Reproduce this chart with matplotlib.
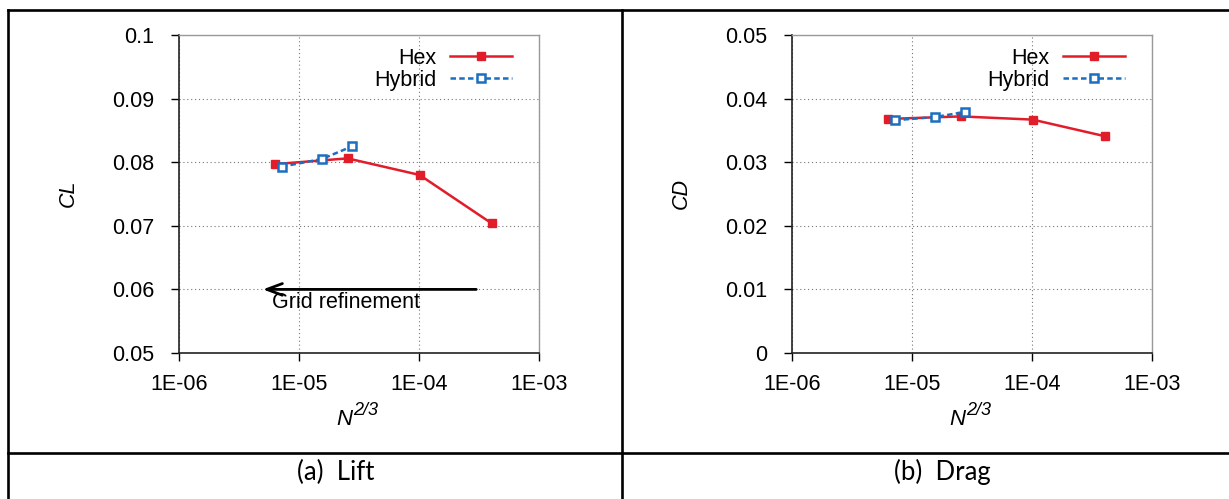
import numpy as np
import matplotlib
matplotlib.use("Agg")
import matplotlib.pyplot as plt
from matplotlib.lines import Line2D
from matplotlib.ticker import FixedLocator, FuncFormatter, NullLocator

RED, BLUE = '#e11d2a', '#1a6fc0'
FS = 15.5
plt.rcParams.update({'font.family': 'Liberation Sans', 'font.size': FS})

# grid size measure N^(2/3) for each mesh family
hex_x = [6.3e-6, 2.54e-5, 1.01e-4, 4.02e-4]
hybrid_x = [7.2e-6, 1.55e-5, 2.78e-5]

cl_hex = [0.0797, 0.0806, 0.0780, 0.0704]
cl_hybrid = [0.0793, 0.0805, 0.0825]
cd_hex = [0.0368, 0.0372, 0.0367, 0.0341]
cd_hybrid = [0.0366, 0.0371, 0.0379]

x_decades = [1e-6, 1e-5, 1e-4, 1e-3]
cl_ticks = [0.05, 0.06, 0.07, 0.08, 0.09, 0.1]
cd_ticks = [0.0, 0.01, 0.02, 0.03, 0.04, 0.05]

W, H = 1229, 499
fig = plt.figure(figsize=(W / 100, H / 100), dpi=100)


def px(x0, y0, w, h):
    return [x0 / W, 1 - (y0 + h) / H, w / W, h / H]


def panel(rect, y_hex, y_hyb, ticks, ylab):
    ax = fig.add_axes(rect)
    ax.plot(hex_x, y_hex, '-s', color=RED, lw=1.8, ms=5.5, label='Hex', zorder=3)
    ax.plot(hybrid_x, y_hyb, '--s', color=BLUE, lw=1.8, ms=6, mfc='white',
            mec=BLUE, mew=1.8, dashes=(2.2, 1.3), label='Hybrid', zorder=4)
    ax.set_xscale('log')
    ax.set_xlim(1e-6, 1e-3)
    ax.set_ylim(ticks[0], ticks[-1])
    ax.xaxis.set_major_locator(FixedLocator(x_decades))
    ax.xaxis.set_minor_locator(NullLocator())
    ax.xaxis.set_major_formatter(FuncFormatter(lambda v, p: '1E-%02d' % round(-np.log10(v))))
    ax.yaxis.set_major_locator(FixedLocator(ticks))
    ax.yaxis.set_major_formatter(FuncFormatter(lambda v, p: '%g' % round(v, 4)))
    ax.tick_params(direction='out', length=6, width=1, pad=9, labelsize=FS)
    ax.tick_params(axis='y', pad=12)
    ax.grid(True, color='#777777', lw=0.8, ls=(0, (1, 2.5)))
    for s in ('left', 'bottom'):
        ax.spines[s].set_color('#222222')
        ax.spines[s].set_linewidth(1.2)
    for s in ('top', 'right'):
        ax.spines[s].set_color('#999999')
        ax.spines[s].set_linewidth(1.0)
    ax.set_ylabel(ylab, fontsize=FS, style='italic')
    ax.yaxis.set_label_coords(-0.278, 0.503)
    # x label N^(2/3), superscript drawn as its own text so it stays large
    ax.text(0.481, -0.226, 'N', style='italic', fontsize=16, ha='right',
            va='baseline', transform=ax.transAxes)
    ax.text(0.483, -0.194, '2/3', style='italic', fontsize=13, ha='left',
            va='baseline', transform=ax.transAxes)
    ax.legend(loc='upper right', bbox_to_anchor=(0.925, 0.96), markerfirst=False,
              frameon=False, handlelength=2.9, handletextpad=0.6, labelspacing=0.05,
              borderpad=0, borderaxespad=0, fontsize=FS)
    return ax


ax1 = panel(px(179, 35, 360, 318), cl_hex, cl_hybrid, cl_ticks, 'CL')
ax1.annotate('', xy=(5e-6, 0.06), xytext=(3e-4, 0.06),
             arrowprops=dict(arrowstyle='->, head_length=0.8, head_width=0.3',
                             lw=2, color='black', mutation_scale=14,
                             shrinkA=0, shrinkB=0), zorder=5)
ax1.text(6e-6, 0.0579, 'Grid refinement', ha='left', va='center', fontsize=FS)

ax2 = panel(px(792, 35, 360, 318), cd_hex, cd_hybrid, cd_ticks, 'CD')

# table rules around the two panels and captions
rules = [((8, 1229), (10, 10)), ((8, 1229), (453, 453)),
         ((8, 8), (10, 499)), ((622, 622), (10, 499))]
for xs, ys in rules:
    fig.add_artist(Line2D([x / W for x in xs], [1 - y / H for y in ys],
                          color='black', lw=1.9, transform=fig.transFigure))

cap = dict(family='Lato', fontsize=18.5, ha='center', va='center')
fig.text(336 / W, 1 - 472 / H, '(a)  Lift', **cap)
fig.text(942 / W, 1 - 472 / H, '(b)  Drag', **cap)

fig.savefig('out.png', dpi=100, facecolor='white')
